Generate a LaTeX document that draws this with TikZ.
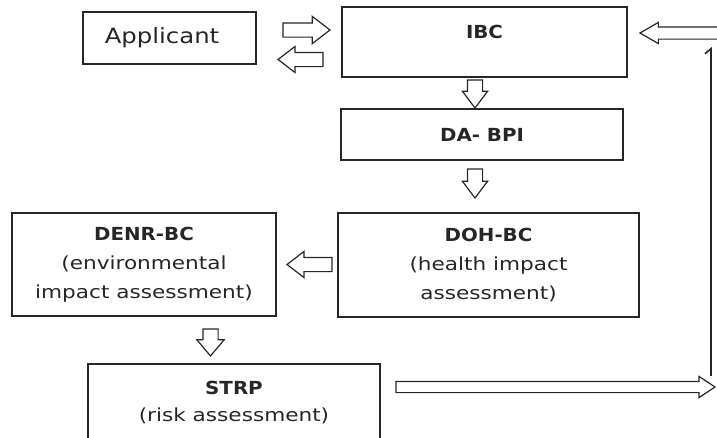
\documentclass[tikz,border=0pt]{standalone}
\usepackage{fontspec}
\usetikzlibrary{shapes.arrows,arrows.meta}
\newfontfamily\regf{DejaVu Sans}[FakeStretch=1.2]
\newfontfamily\boldf{DejaVu Sans}[FakeStretch=1.1]
\newfontfamily\appf{DejaVu Sans}[FakeStretch=1.16]
\definecolor{ink}{HTML}{262626}
\begin{document}
\begin{tikzpicture}[x=1pt,y=-1pt,
  box/.style={draw=ink, line width=1.3pt, rectangle, inner sep=0pt, outer sep=0pt,
    align=center, text=ink, font=\regf\fontsize{18}{29}\selectfont},
  barrow/.style n args={4}{draw=ink, line width=1.2pt, fill=white, single arrow,
    outer sep=0pt, inner sep={#3/2*1pt}, minimum height={#1*1pt},
    single arrow head extend={(#2-#3)/2*1pt}, single arrow tip angle=#4,
    anchor=tail}
]
\path[use as bounding box, clip] (0,0) rectangle (717,437);

% boxes
\node[box, minimum width=173pt, minimum height=52pt,
  font=\appf\fontsize{21}{25}\selectfont] (applicant) at (169.5,38) {Applicant\hspace*{15pt}};
\node[box, minimum width=285pt, minimum height=70pt, text height=13pt, text depth=20pt]
  (ibc) at (484.5,42) {\boldf\bfseries IBC};
\node[box, minimum width=282pt, minimum height=51pt] (dabpi) at (482,134.5)
  {\boldf\bfseries DA- BPI};
\node[box, minimum width=301pt, minimum height=104pt] (doh) at (488.5,265)
  {{\boldf\bfseries DOH-BC}\\(health impact\\assessment)};
\node[box, minimum width=264pt, minimum height=103pt] (denr) at (144,264.5)
  {{\boldf\bfseries DENR-BC}\\(environmental\\impact assessment)};
\node[box, minimum width=292pt, minimum height=76pt] (strp) at (234,402)
  {{\boldf\bfseries STRP}\\[-2pt](risk assessment)};

% block arrows
\node[barrow={47}{26}{13}{75}, shape border rotate=0] (a1) at (283,30) {};
\node[barrow={45}{25}{13}{75}, shape border rotate=180] (a2) at (323,59.5) {};
\node[barrow={28}{24}{14}{74}, shape border rotate=270] (a3) at (475,80) {};
\node[barrow={29}{24}{14}{74}, shape border rotate=270] (a4) at (475,169) {};
\node[barrow={45}{25}{13}{75}, shape border rotate=180] (a5) at (332,264.5) {};
\node[barrow={27}{26}{14}{80}, shape border rotate=270] (a6) at (210.5,329) {};
\node[barrow={319}{20}{10}{67}, shape border rotate=0] (a7) at (396,387) {};
\node[barrow={80}{20}{11}{60}, shape border rotate=180] (a8) at (720,33) {};

% feedback line
\coordinate (loopb) at (711,376);
\coordinate (loopt) at (711,47);
\draw[draw=ink, line width=1.6pt, -{Straight Barb[left,length=5pt,width=12pt]}] (loopb) -- (loopt);
\end{tikzpicture}
\end{document}
